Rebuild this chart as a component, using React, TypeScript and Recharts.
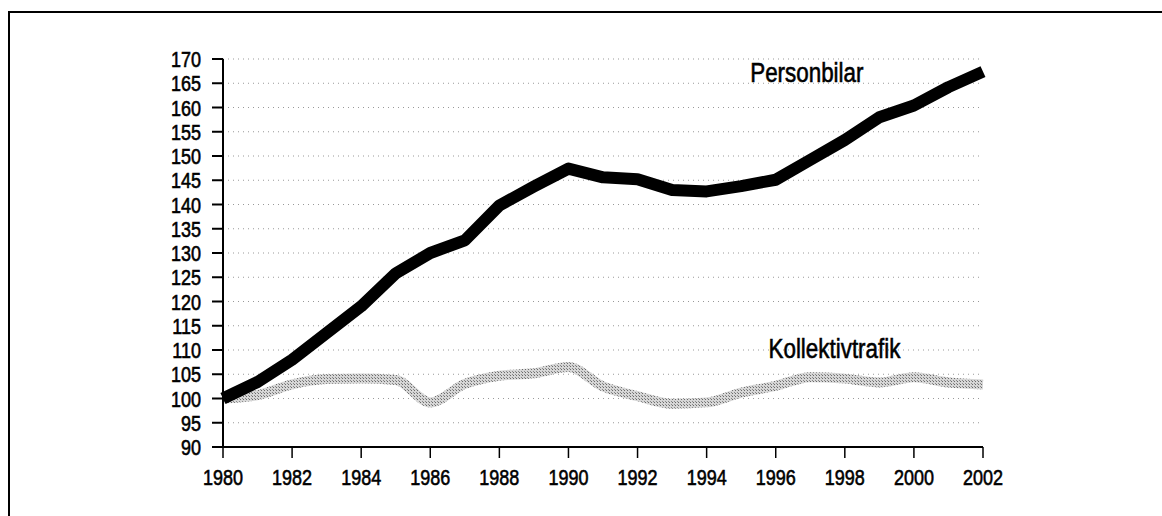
import { LineChart, Line, XAxis, YAxis, CartesianGrid, ReferenceDot } from 'recharts'

const years = [
    1980, 1981, 1982, 1983, 1984, 1985, 1986, 1987, 1988, 1989, 1990, 1991,
    1992, 1993, 1994, 1995, 1996, 1997, 1998, 1999, 2000, 2001, 2002,
]
const personbilar = [
    100, 103.4, 108, 113.5, 119, 125.8, 130, 132.6, 139.8, 143.7, 147.4, 145.6,
    145.2, 143, 142.7, 143.8, 145.1, 149.2, 153.3, 158, 160.4, 164.2, 167.4,
]
const kollektivtrafik = [
    100, 100.7, 102.9, 104, 104.1, 103.8, 99.2, 103, 104.7, 105.2, 106.5, 102.5,
    100.5, 98.9, 99.2, 101.2, 102.6, 104.4, 104.1, 103.3, 104.4, 103.3, 102.9,
]
const yearTicks = [1980, 1982, 1984, 1986, 1988, 1990, 1992, 1994, 1996, 1998, 2000, 2002]
const valueTicks = [90, 95, 100, 105, 110, 115, 120, 125, 130, 135, 140, 145, 150, 155, 160, 165, 170]

const data = years.map((year, i) => ({
    year,
    personbilar: personbilar[i],
    kollektivtrafik: kollektivtrafik[i],
}))

// no narrow font installed, so squeeze Liberation Sans horizontally
const font = "'Liberation Sans', Arial, sans-serif"
const squeeze = 0.8

function NarrowText({ x, y, anchor, dy, size, children }: any) {
    return (
        <text
            transform={`translate(${x},${y}) scale(${squeeze},1)`}
            textAnchor={anchor}
            dy={dy}
            fill="#000"
            stroke="#000"
            strokeWidth={0.6}
            fontSize={size}
            fontFamily={font}
        >
            {children}
        </text>
    )
}

const YTick = ({ x, y, payload }: any) => (
    <NarrowText x={x} y={y} anchor="end" dy="0.36em" size={22.5}>
        {payload.value}
    </NarrowText>
)

const XTick = ({ x, y, payload }: any) => (
    <NarrowText x={x} y={y} anchor="middle" dy="0.72em" size={22.5}>
        {payload.value}
    </NarrowText>
)

const seriesLabel = (text: string) => ({ cx, cy }: any) => (
    <NarrowText x={cx} y={cy} anchor="middle" dy="0.36em" size={28}>
        {text}
    </NarrowText>
)

export default function App() {
    return (
        <div style={{ position: 'absolute', left: 0, top: 0, width: 1162, height: 516, overflow: 'hidden', background: '#fff' }}>
            <div
                style={{
                    position: 'absolute',
                    left: 8,
                    top: 11,
                    width: 1300,
                    height: 700,
                    borderTop: '2px solid #000',
                    borderLeft: '2px solid #000',
                }}
            />
            <div style={{ position: 'absolute', left: 0, top: 0 }}>
                <LineChart
                    width={1162}
                    height={516}
                    data={data}
                    margin={{ top: 59, right: 179, bottom: 19, left: 143 }}
                >
                    <defs>
                        <pattern id="halftone" width="3" height="3" patternUnits="userSpaceOnUse">
                            <rect width="3" height="3" fill="#d6d6d6" />
                            <rect width="1" height="1" fill="#6a6a6a" />
                            <rect x="2" y="2" width="1" height="1" fill="#8a8a8a" />
                        </pattern>
                    </defs>
                    <CartesianGrid vertical={false} stroke="#999" strokeDasharray="1 4" />
                    <XAxis
                        dataKey="year"
                        type="number"
                        domain={[1980, 2002]}
                        ticks={yearTicks}
                        interval={0}
                        height={50}
                        tickSize={11}
                        tickMargin={11}
                        axisLine={{ stroke: '#000', strokeWidth: 2 }}
                        tickLine={{ stroke: '#000', strokeWidth: 1.5 }}
                        tick={<XTick />}
                    />
                    <YAxis
                        type="number"
                        domain={[90, 170]}
                        ticks={valueTicks}
                        interval={0}
                        width={80}
                        tickSize={11}
                        tickMargin={11}
                        axisLine={{ stroke: '#000', strokeWidth: 2 }}
                        tickLine={{ stroke: '#000', strokeWidth: 2 }}
                        tick={<YTick />}
                    />
                    <Line
                        type="monotone"
                        dataKey="kollektivtrafik"
                        stroke="url(#halftone)"
                        strokeWidth={10}
                        strokeLinejoin="round"
                        dot={false}
                        activeDot={false}
                        isAnimationActive={false}
                    />
                    <Line
                        type="linear"
                        dataKey="personbilar"
                        stroke="#000"
                        strokeWidth={12}
                        strokeLinejoin="round"
                        dot={false}
                        activeDot={false}
                        isAnimationActive={false}
                    />
                    <ReferenceDot x={1996.9} y={167.4} r={0} shape={seriesLabel('Personbilar')} />
                    <ReferenceDot x={1997.7} y={110.4} r={0} shape={seriesLabel('Kollektivtrafik')} />
                </LineChart>
            </div>
        </div>
    )
}
